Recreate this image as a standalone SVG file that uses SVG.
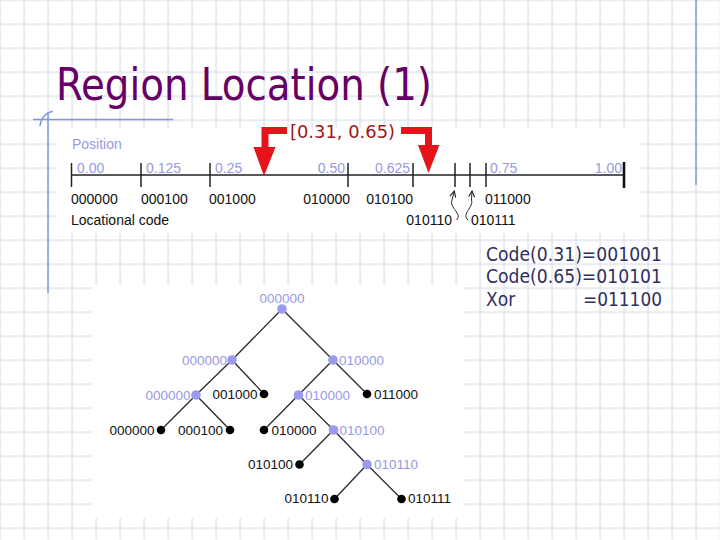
<svg xmlns="http://www.w3.org/2000/svg" width="720" height="540" viewBox="0 0 720 540">
<defs>
  <pattern id="grid" x="0" y="0" width="24" height="24" patternUnits="userSpaceOnUse">
    <path d="M0,0.5 H24 M0.5,0 V24" stroke="#d9dfea" stroke-width="1.6" fill="none"/>
  </pattern>
  <marker id="tip" viewBox="0 0 8 8" refX="7" refY="4" markerWidth="8" markerHeight="8" markerUnits="userSpaceOnUse" orient="auto">
    <path d="M1,1 L7,4 L1,7" fill="none" stroke="#222" stroke-width="1.1"/>
  </marker>
  <style>
    .h { font-family: "Liberation Sans", Arial, sans-serif; }
    .lav { fill: #9898e6; }
    .blk { fill: #111; }
    .s14 { font-size: 14px; }
    .s13 { font-size: 13.5px; }
    .tick { stroke: #222; stroke-width: 1.5; }
    .edge { stroke: #2a2a2a; stroke-width: 1.3; fill: none; }
    .dl { fill: #9a9af0; }
    .db { fill: #000; }
    .code { font-family: "DejaVu Sans Condensed", "DejaVu Sans", sans-serif; font-size: 19px; fill: #30305f; }
    .red { fill: #e5141b; }
  </style>
</defs>

<!-- background grid -->
<rect x="0" y="0" width="720" height="540" fill="#ffffff"/>
<rect x="0" y="0" width="720" height="540" fill="url(#grid)" transform="translate(-0.5,-0.5)"/>

<!-- accent lines -->
<g id="accents" stroke="#8199d4" stroke-width="1.5" fill="none">
  <line x1="48" y1="113" x2="48" y2="293"/>
  <line x1="33" y1="119.5" x2="173" y2="119.5"/>
  <path d="M53,111.5 C46,112 41,118 40,126"/>
  <line x1="696" y1="0" x2="696" y2="185"/>
</g>

<!-- white panels -->
<rect x="56" y="128" width="584" height="105" fill="#ffffff"/>
<rect x="92" y="285" width="372" height="233" fill="#ffffff"/>

<!-- title -->
<text id="title" x="56" y="100" font-family="'DejaVu Sans Condensed', 'DejaVu Sans', sans-serif" font-size="44" fill="#660066" textLength="376" lengthAdjust="spacingAndGlyphs">Region Location (1)</text>

<!-- number line -->
<g id="numberline">
  <text class="h s14 lav" x="72" y="148.5">Position</text>
  <line x1="71" y1="175" x2="625" y2="175" stroke="#222" stroke-width="1.6"/>
  <line class="tick" x1="71.5" y1="163" x2="71.5" y2="187"/>
  <line class="tick" x1="141" y1="163" x2="141" y2="187"/>
  <line class="tick" x1="210" y1="163" x2="210" y2="187"/>
  <line class="tick" x1="348" y1="163" x2="348" y2="187"/>
  <line class="tick" x1="413" y1="163" x2="413" y2="187"/>
  <line class="tick" x1="455" y1="163" x2="455" y2="187"/>
  <line class="tick" x1="470" y1="163" x2="470" y2="187"/>
  <line class="tick" x1="486" y1="163" x2="486" y2="187"/>
  <line x1="624" y1="162" x2="624" y2="188" stroke="#111" stroke-width="2.6"/>
  <g class="h s14 lav">
    <text x="77" y="172.5">0.00</text>
    <text x="146" y="172.5">0.125</text>
    <text x="215" y="172.5">0.25</text>
    <text x="345" y="172.5" text-anchor="end">0.50</text>
    <text x="410" y="172.5" text-anchor="end">0.625</text>
    <text x="490" y="172.5">0.75</text>
    <text x="622" y="172.5" text-anchor="end">1.00</text>
  </g>
  <g class="h s14 blk">
    <text x="71" y="203.5">000000</text>
    <text x="141" y="203.5">000100</text>
    <text x="209" y="203.5">001000</text>
    <text x="350" y="203.5" text-anchor="end">010000</text>
    <text x="413" y="203.5" text-anchor="end">010100</text>
    <text x="485" y="203.5">011000</text>
    <text x="71" y="224.5">Locational code</text>
    <text x="452" y="224.5" text-anchor="end">010110</text>
    <text x="471" y="224.5">010111</text>
  </g>
  <path d="M456.5,220 C463,214 449,208 452,200 L454.3,191" fill="none" stroke="#222" stroke-width="1" marker-end="url(#tip)"/>
  <path d="M468,220 C461,214 474,207 471.5,200 L472,191" fill="none" stroke="#222" stroke-width="1" marker-end="url(#tip)"/>
</g>

<!-- red interval arrows -->
<g id="interval">
  <path d="M287,130.5 H265 V150" fill="none" stroke="#e5141b" stroke-width="7"/>
  <polygon class="red" points="253.5,147 275.5,147 264,176"/>
  <path d="M401,130.5 H428.5 V147" fill="none" stroke="#e5141b" stroke-width="7"/>
  <polygon class="red" points="418,145 439.5,145 428.5,173"/>
  <text x="290" y="137.5" font-family="'DejaVu Sans', sans-serif" font-size="17" fill="#9e1616" textLength="105" lengthAdjust="spacingAndGlyphs">[0.31, 0.65)</text>
</g>

<!-- code block -->
<g id="codes" class="code">
  <text x="486" y="260.5" textLength="176" lengthAdjust="spacingAndGlyphs">Code(0.31)=001001</text>
  <text x="486" y="283" textLength="176" lengthAdjust="spacingAndGlyphs">Code(0.65)=010101</text>
  <text x="486" y="305.5">Xor</text>
  <text x="583" y="305.5" textLength="79" lengthAdjust="spacingAndGlyphs">=011100</text>
</g>

<!-- tree connectors -->
<g id="connectors" class="edge">
  <line x1="282" y1="309" x2="232" y2="360"/>
  <line x1="282" y1="309" x2="333" y2="360"/>
  <line x1="232" y1="360" x2="196" y2="395"/>
  <line x1="232" y1="360" x2="264" y2="394"/>
  <line x1="333" y1="360" x2="298.5" y2="395"/>
  <line x1="333" y1="360" x2="367" y2="394"/>
  <line x1="196" y1="395" x2="161" y2="430"/>
  <line x1="196" y1="395" x2="230" y2="430"/>
  <line x1="298.5" y1="395" x2="264" y2="430"/>
  <line x1="298.5" y1="395" x2="333.5" y2="430"/>
  <line x1="333.5" y1="430" x2="299.5" y2="464.5"/>
  <line x1="333.5" y1="430" x2="367" y2="464.5"/>
  <line x1="367" y1="464.5" x2="334.5" y2="499"/>
  <line x1="367" y1="464.5" x2="401.5" y2="499"/>
</g>

<!-- tree nodes -->
<g id="n-root"><circle class="dl" cx="282" cy="309" r="4.8"/><text class="h s13 lav" x="282" y="303" text-anchor="middle">000000</text></g>
<g id="n-0"><circle class="dl" cx="232" cy="360" r="4.8"/><text class="h s13 lav" x="227" y="364.5" text-anchor="end">000000</text></g>
<g id="n-1"><circle class="dl" cx="333" cy="360" r="4.8"/><text class="h s13 lav" x="339" y="364.5">010000</text></g>
<g id="n-00"><circle class="dl" cx="196" cy="395" r="4.8"/><text class="h s13 lav" x="190.5" y="399.5" text-anchor="end">000000</text></g>
<g id="n-01"><circle class="db" cx="264" cy="394" r="4.3"/><text class="h s13 blk" x="257.5" y="398.5" text-anchor="end">001000</text></g>
<g id="n-10"><circle class="dl" cx="298.5" cy="395" r="4.8"/><text class="h s13 lav" x="305" y="399.5">010000</text></g>
<g id="n-11"><circle class="db" cx="367" cy="394" r="4.3"/><text class="h s13 blk" x="374" y="398.5">011000</text></g>
<g id="n-000"><circle class="db" cx="161" cy="430" r="4.3"/><text class="h s13 blk" x="154.5" y="434.5" text-anchor="end">000000</text></g>
<g id="n-001"><circle class="db" cx="230" cy="430" r="4.3"/><text class="h s13 blk" x="223" y="434.5" text-anchor="end">000100</text></g>
<g id="n-100"><circle class="db" cx="264" cy="430" r="4.3"/><text class="h s13 blk" x="271.5" y="434.5">010000</text></g>
<g id="n-101"><circle class="dl" cx="333.5" cy="430" r="4.8"/><text class="h s13 lav" x="339.5" y="434.5">010100</text></g>
<g id="n-1010"><circle class="db" cx="299.5" cy="464.5" r="4.3"/><text class="h s13 blk" x="293" y="468.5" text-anchor="end">010100</text></g>
<g id="n-1011"><circle class="dl" cx="367" cy="464.5" r="4.8"/><text class="h s13 lav" x="374" y="468.5">010110</text></g>
<g id="n-10110"><circle class="db" cx="334.5" cy="499" r="4.3"/><text class="h s13 blk" x="328.5" y="503" text-anchor="end">010110</text></g>
<g id="n-10111"><circle class="db" cx="401.5" cy="499" r="4.3"/><text class="h s13 blk" x="408" y="503">010111</text></g>
</svg>
